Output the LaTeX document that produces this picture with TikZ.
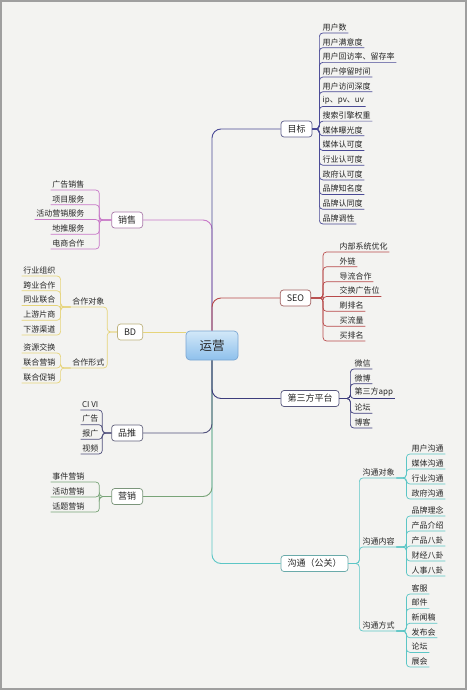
\documentclass[tikz,border=0pt]{standalone}
\usepackage{fontspec}
\newfontfamily\cjk{Noto Sans CJK SC}
\definecolor{bg}{HTML}{F3F3F1}
\definecolor{cmb}{HTML}{4A4A96}
\definecolor{cxs}{HTML}{C878C8}
\definecolor{cbd}{HTML}{E6D47A}
\definecolor{cseo}{HTML}{B84A4A}
\definecolor{cdsf}{HTML}{3C3C7C}
\definecolor{cpt}{HTML}{50507C}
\definecolor{cyx}{HTML}{78A478}
\definecolor{cgt}{HTML}{5CC6C6}
\definecolor{txt}{HTML}{262626}
\definecolor{ctop}{HTML}{D2E8F8}
\definecolor{cbot}{HTML}{8EC0EC}
\definecolor{cedge}{HTML}{7AA6D2}
\tikzset{
  item/.style={font=\cjk\fontsize{8}{8}\selectfont, inner xsep=1.5pt, inner ysep=1.8pt, text=txt},
  branch/.style={draw=#1!60!gray, rounded corners=3pt, fill=white, font=\cjk\fontsize{9}{10}\selectfont,
    inner xsep=6.5pt, inner ysep=0pt, minimum height=16pt, text=txt, line width=0.7pt},
  trunk/.style={draw=#1, line width=0.9pt, rounded corners=9pt},
  twig/.style={draw=#1, line width=0.7pt, rounded corners=3.5pt},
}
\begin{document}
\begin{tikzpicture}[x=1pt,y=-1pt]
\useasboundingbox (0,0) rectangle (467,690);
\fill[bg] (0,0) rectangle (467,690);
\draw[gray!75, line width=1.6pt] (0.8,0.8) rectangle (466.2,689.2);

% central node
\node[draw=cedge, rounded corners=4pt, top color=ctop, bottom color=cbot,
  minimum width=52pt, minimum height=29pt, font=\cjk\fontsize{12.5}{13}\selectfont, text=txt, line width=0.7pt]
  (c) at (212,345.5) {运营};

% branch nodes
\node[branch=cmb] (mb) at (296.5,129) {目标};
\node[branch=cxs, anchor=east] (xs) at (143,220) {销售};
\node[branch=cbd, anchor=east] (bd) at (143,332) {BD};
\node[branch=cseo] (seo) at (295.5,298) {SEO};
\node[branch=cdsf] (dsf) at (310,398.5) {第三方平台};
\node[branch=cpt, anchor=east] (pt) at (143,433) {品推};
\node[branch=cyx, anchor=east] (yx) at (143,496.5) {营销};
\node[branch=cgt] (gt) at (314.5,563.5) {沟通（公关）};

% trunk connectors
\draw[trunk=cxs] (c.north) |- (xs.east);
\draw[trunk=cmb] (c.north) |- (mb.west);
\draw[trunk=cseo] (c.north) |- (seo.west);
\draw[trunk=cbd] (bd.east) -- (c.west |- bd.east);
\draw[trunk=cgt] (c.south) |- (gt.west);
\draw[trunk=cyx] (c.south) |- (yx.east);
\draw[trunk=cpt] (c.south) |- (pt.east);
\draw[trunk=cdsf] (c.south) |- (dsf.west);

% 目标 children
\foreach \t [count=\i from 0] in {用户数,用户满意度,用户回访率、留存率,用户停留时间,用户访问深度,ip、pv、uv,搜索引擎权重,媒体曝光度,媒体认可度,行业认可度,政府认可度,品牌知名度,品牌认同度,品牌调性}{
  \node[item, anchor=south west] (mb\i) at (321,33+14.69*\i) {\t};
  \draw[twig=cmb] (mb.east) -- ++(7,0) |- (mb\i.south east);
}

% 销售 children
\foreach \t [count=\i from 0] in {广告销售,项目服务,活动营销服务,地推服务,电商合作}{
  \node[item, anchor=south east] (xs\i) at (86,190+14.75*\i) {\t};
  \draw[twig=cxs] (xs.west) -- ++(-12,0) |- (xs\i.south west);
}

% BD children
\node[item, anchor=south east] (hzdx) at (106,307) {合作对象};
\node[item, anchor=south east] (hzxs) at (106,368) {合作形式};
\draw[twig=cbd] (bd.west) -- ++(-10,0) |- (hzdx.south west);
\draw[twig=cbd] (bd.west) -- ++(-10,0) |- (hzxs.south west);
\foreach \t [count=\i from 0] in {行业组织,跨业合作,同业联合,上游片商,下游渠道}{
  \node[item, anchor=south east] (dx\i) at (57,276+14.75*\i) {\t};
  \draw[twig=cbd] (hzdx.south west) -- ++(-10,0) |- (dx\i.south west);
}
\foreach \t [count=\i from 0] in {资源交换,联合营销,联合促销}{
  \node[item, anchor=south east] (xsf\i) at (57,353+15*\i) {\t};
  \draw[twig=cbd] (hzxs.south west) -- ++(-10,0) |- (xsf\i.south west);
}

% SEO children
\foreach \t [count=\i from 0] in {内部系统优化,外链,导流合作,交换广告位,刷排名,买流量,买排名}{
  \node[item, anchor=south west] (seo\i) at (338,252+14.83*\i) {\t};
  \draw[twig=cseo] (seo.east) -- ++(12,0) |- (seo\i.south east);
}

% 第三方平台 children
\foreach \t [count=\i from 0] in {微信,微博,第三方app,论坛,博客}{
  \node[item, anchor=south west] (dsf\i) at (353,369+14.75*\i) {\t};
  \draw[twig=cdsf] (dsf.east) -- ++(11,0) |- (dsf\i.south east);
}

% 品推 children
\foreach \t [count=\i from 0] in {CI VI,广告,报广,视频}{
  \node[item, anchor=south east] (pt\i) at (100,410+14.67*\i) {\t};
  \draw[twig=cpt] (pt.west) -- ++(-9,0) |- (pt\i.south west);
}

% 营销 children
\foreach \t [count=\i from 0] in {事件营销,活动营销,话题营销}{
  \node[item, anchor=south east] (yx\i) at (86,482+15*\i) {\t};
  \draw[twig=cyx] (yx.west) -- ++(-12,0) |- (yx\i.south west);
}

% 沟通 children
\node[item, anchor=south west] (gtdx) at (361,478) {沟通对象};
\node[item, anchor=south west] (gtnr) at (361,547) {沟通内容};
\node[item, anchor=south west] (gtfs) at (361,631) {沟通方式};
\foreach \n in {gtdx,gtnr,gtfs}{
  \draw[twig=cgt] (gt.east) -- ++(11,0) |- (\n.south east);
}
\foreach \t [count=\i from 0] in {用户沟通,媒体沟通,行业沟通,政府沟通}{
  \node[item, anchor=south west] (dxa\i) at (410,454+15*\i) {\t};
  \draw[twig=cgt] (gtdx.south east) -- ++(10,0) |- (dxa\i.south east);
}
\foreach \t [count=\i from 0] in {品牌理念,产品介绍,产品八卦,财经八卦,人事八卦}{
  \node[item, anchor=south west] (nra\i) at (410,516+15*\i) {\t};
  \draw[twig=cgt] (gtnr.south east) -- ++(10,0) |- (nra\i.south east);
}
\foreach \t [count=\i from 0] in {客服,邮件,新闻稿,发布会,论坛,展会}{
  \node[item, anchor=south west] (fsa\i) at (410,594+14.6*\i) {\t};
  \draw[twig=cgt] (gtfs.south east) -- ++(10,0) |- (fsa\i.south east);
}
\end{tikzpicture}
\end{document}
